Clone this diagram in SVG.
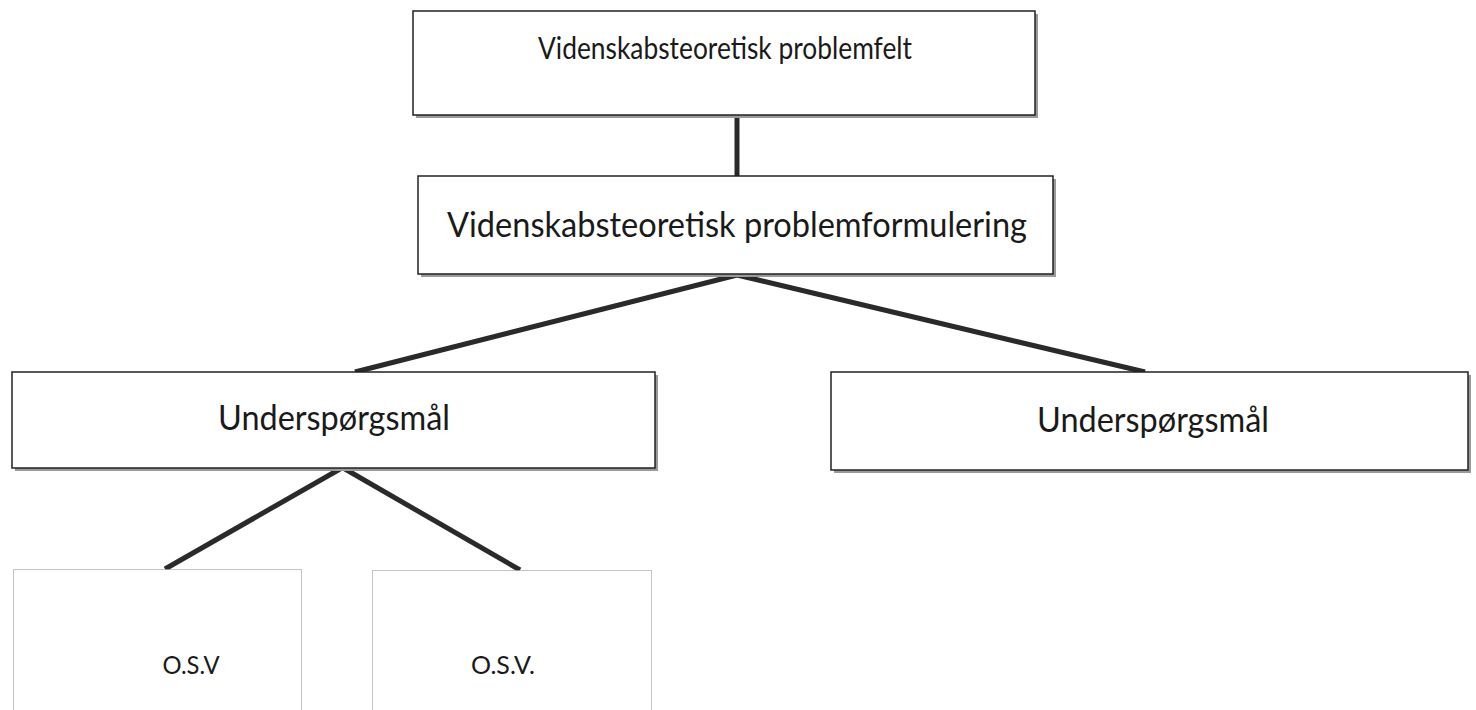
<svg xmlns="http://www.w3.org/2000/svg" width="1476" height="710" viewBox="0 0 1476 710">
<style>
.box{fill:#fff;stroke:#222;stroke-width:1.5}
.shadow{fill:#9a9a9a}
.dbox{fill:#fff;stroke:#888;stroke-width:1;stroke-dasharray:1 1}
.t{font-family:Lato,"Open Sans",sans-serif;font-weight:400;fill:#1a1a1a;text-anchor:middle}
.con line{stroke:#2a2a2a;stroke-width:5;stroke-linecap:butt}
</style>
<rect width="1476" height="710" fill="#fff"/>
<g class="con" id="connectors">
<line x1="737" y1="115" x2="737" y2="176"/>
<line x1="737" y1="275" x2="355" y2="372"/>
<line x1="737" y1="275" x2="1145" y2="372"/>
<line x1="340" y1="469" x2="165" y2="569"/>
<line x1="345" y1="469" x2="520" y2="570"/>
</g>
<g id="n1">
<rect class="shadow" x="416" y="14" width="622" height="104"/>
<rect class="box" x="413" y="11" width="622" height="104"/>
<text class="t" x="725" y="59" font-size="30" textLength="374" lengthAdjust="spacingAndGlyphs">Videnskabsteoretisk problemfelt</text>
</g>
<g id="n2">
<rect class="shadow" x="421" y="179" width="635" height="98"/>
<rect class="box" x="418" y="176" width="635" height="98"/>
<text class="t" x="737" y="237" font-size="34" textLength="580" lengthAdjust="spacingAndGlyphs">Videnskabsteoretisk problemformulering</text>
</g>
<g id="n3">
<rect class="shadow" x="15" y="375" width="643" height="96"/>
<rect class="box" x="12" y="372" width="643" height="96"/>
<text class="t" x="334" y="430" font-size="34" textLength="232" lengthAdjust="spacingAndGlyphs">Underspørgsmål</text>
</g>
<g id="n4">
<rect class="shadow" x="834" y="375" width="637" height="98"/>
<rect class="box" x="831" y="372" width="637" height="98"/>
<text class="t" x="1153" y="432" font-size="34" textLength="232" lengthAdjust="spacingAndGlyphs">Underspørgsmål</text>
</g>
<g id="n5">
<rect class="dbox" x="13.5" y="569.5" width="288" height="150"/>
<text class="t" x="191" y="674" font-size="25" textLength="57" lengthAdjust="spacingAndGlyphs">O.S.V</text>
</g>
<g id="n6">
<rect class="dbox" x="372.5" y="570.5" width="279" height="150"/>
<text class="t" x="503" y="674" font-size="25" textLength="64" lengthAdjust="spacingAndGlyphs">O.S.V.</text>
</g>
</svg>
